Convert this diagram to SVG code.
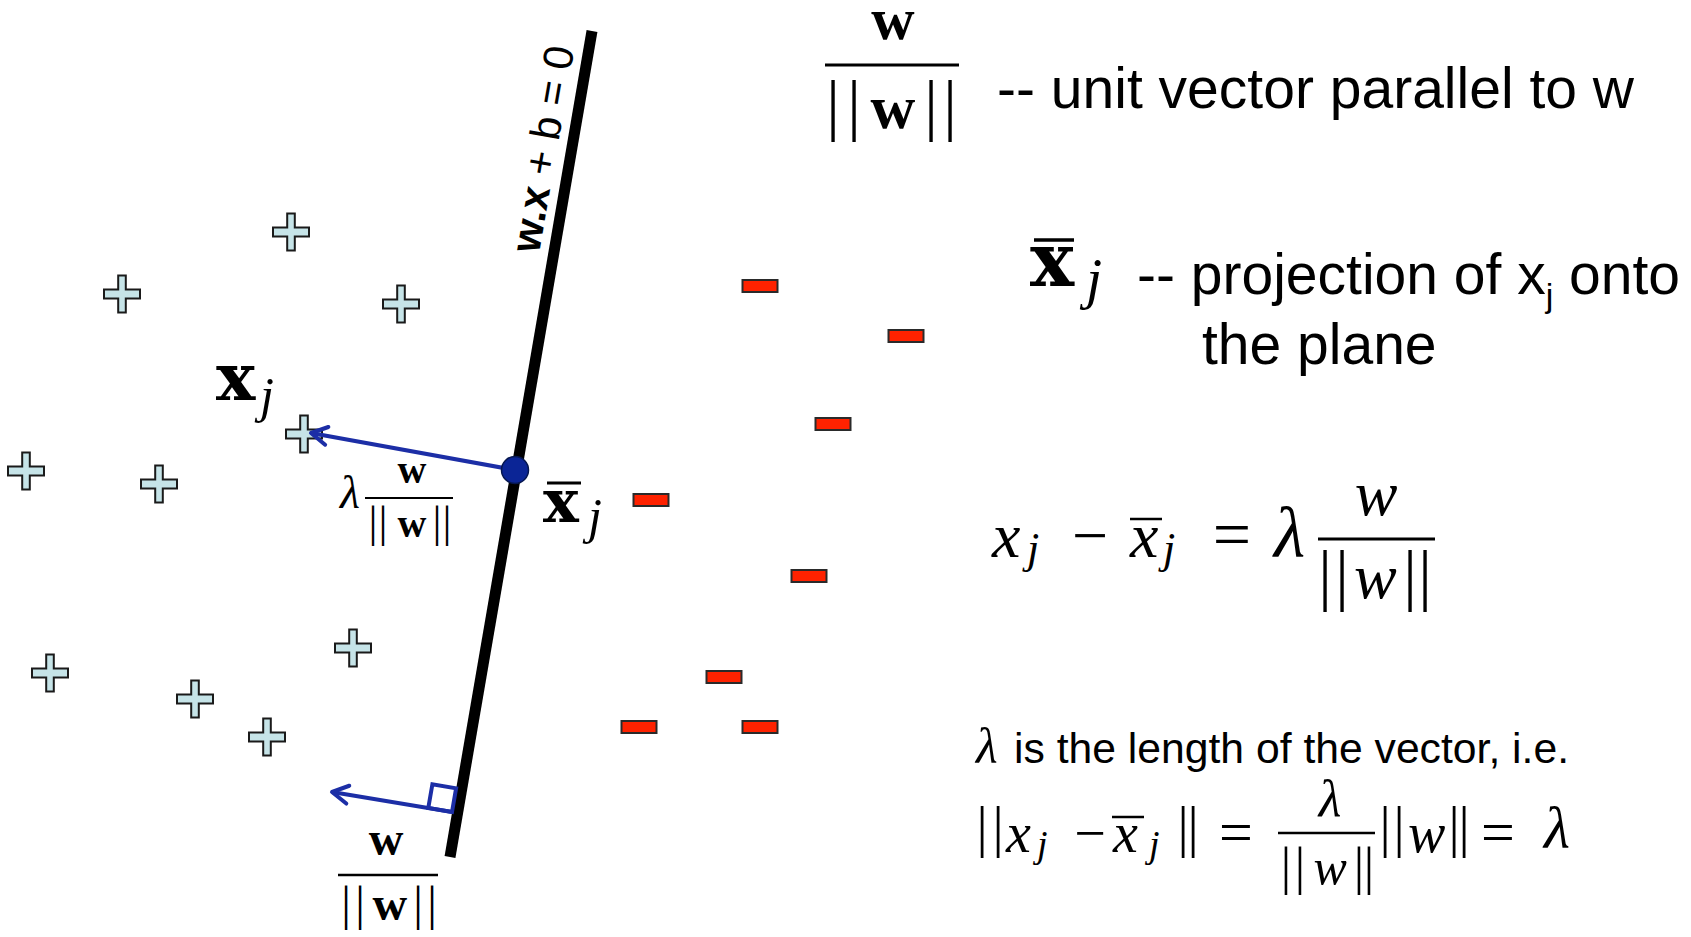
<svg xmlns="http://www.w3.org/2000/svg" width="1691" height="937" viewBox="0 0 1691 937">
<style>
.sans{font-family:"Liberation Sans",Arial,sans-serif;fill:#000}
.serif{font-family:"Liberation Serif","Times New Roman",serif;fill:#000}
.dj{font-family:"DejaVu Serif","Liberation Serif",serif;fill:#000}
.b{font-weight:bold}
.i{font-style:italic}
.plus{fill:#c6e4e8;stroke:#1a1a1a;stroke-width:2}
.neg{fill:#ff2200;stroke:#2a2a2a;stroke-width:2}
.vec{stroke:#1c2ea6;stroke-width:4;fill:none}
.bar{stroke:#000;fill:none}
</style>
<defs>
<path id="plusShape" class="plus" d="M-3.8,-18.5 H3.8 V-4.5 H18 V4.5 H3.8 V18.5 H-3.8 V4.5 H-18 V-4.5 H-3.8 Z"/>
<rect id="negShape" class="neg" x="-17.5" y="-6" width="35" height="12"/>
<marker id="chev" markerUnits="userSpaceOnUse" markerWidth="40" markerHeight="40" viewBox="-20 -20 40 40" refX="0" refY="0" orient="auto">
<path d="M-16,-9 L0,0 L-16,9" fill="none" stroke="#1c2ea6" stroke-width="4" stroke-linecap="round" stroke-linejoin="round"/>
</marker>
</defs>
<rect width="1691" height="937" fill="#fff"/>

<g id="hyperplane">
<line x1="592" y1="31" x2="450" y2="857" stroke="#000" stroke-width="11"/>
<text class="sans" font-size="42" transform="translate(539,254) rotate(-80.2)"><tspan class="b">w.x</tspan> + b = 0</text>
</g>

<g id="positives">
<g id="plus1"><use href="#plusShape" transform="translate(291,232)"/></g>
<g id="plus2"><use href="#plusShape" transform="translate(122,294)"/></g>
<g id="plus3"><use href="#plusShape" transform="translate(401,304)"/></g>
<g id="plus4"><use href="#plusShape" transform="translate(304,434)"/></g>
<g id="plus5"><use href="#plusShape" transform="translate(26,471)"/></g>
<g id="plus6"><use href="#plusShape" transform="translate(159,484)"/></g>
<g id="plus7"><use href="#plusShape" transform="translate(353,648)"/></g>
<g id="plus8"><use href="#plusShape" transform="translate(50,673)"/></g>
<g id="plus9"><use href="#plusShape" transform="translate(195,699)"/></g>
<g id="plus10"><use href="#plusShape" transform="translate(267,737)"/></g>
</g>

<g id="negatives">
<g id="neg1"><use href="#negShape" transform="translate(760,286)"/></g>
<g id="neg2"><use href="#negShape" transform="translate(906,336)"/></g>
<g id="neg3"><use href="#negShape" transform="translate(833,424)"/></g>
<g id="neg4"><use href="#negShape" transform="translate(651,500)"/></g>
<g id="neg5"><use href="#negShape" transform="translate(809,576)"/></g>
<g id="neg6"><use href="#negShape" transform="translate(724,677)"/></g>
<g id="neg7"><use href="#negShape" transform="translate(639,727)"/></g>
<g id="neg8"><use href="#negShape" transform="translate(760,727)"/></g>
</g>

<g id="connectors">
<line class="vec" x1="515" y1="470" x2="311" y2="433" marker-end="url(#chev)"/>
<line class="vec" x1="452" y1="812" x2="332" y2="792" marker-end="url(#chev)"/>
<polygon class="vec" stroke-width="3.5" points="452,812 456.1,788.3 432.4,784.2 428.3,807.9"/>
</g>

<g id="projection-point">
<circle cx="515" cy="470" r="13.5" fill="#0b2596" stroke="#06174f" stroke-width="1.5"/>
</g>

<g id="label-xj">
<text class="dj b" x="216" y="400" font-size="66">x</text>
<text class="serif i" x="260" y="412" font-size="50">j</text>
</g>

<g id="label-xbar-j">
<line class="bar" x1="547" y1="483" x2="581" y2="483" stroke-width="3"/>
<text class="dj b" x="543" y="522" font-size="60">x</text>
<text class="serif i" x="588" y="533" font-size="50">j</text>
</g>

<g id="label-lambda-w">
<text class="serif i" x="340" y="508" font-size="46">λ</text>
<text class="serif b" x="412" y="483" font-size="40" text-anchor="middle">w</text>
<line class="bar" x1="365" y1="498" x2="453" y2="498" stroke-width="2"/>
<text class="serif" y="537"><tspan font-size="45" x="368.5 378.5">||</tspan><tspan font-size="40" class="b" x="397.5">w</tspan><tspan font-size="45" x="432.5 442.5">||</tspan></text>
</g>

<g id="label-unit-w-bottom">
<text class="serif b" x="386" y="855" font-size="48" text-anchor="middle">w</text>
<line class="bar" x1="338" y1="875" x2="438" y2="875" stroke-width="2.5"/>
<text class="serif" y="920"><tspan font-size="48" x="341.2 355.2">||</tspan><tspan class="b" x="372.6" font-size="48">w</tspan><tspan font-size="48" x="413.2 427.2">||</tspan></text>
</g>

<g id="legend-unit-vector">
<text class="serif b" x="893" y="39" font-size="60" text-anchor="middle">w</text>
<line class="bar" x1="825" y1="65" x2="959" y2="65" stroke-width="3"/>
<text class="serif" y="128"><tspan font-size="68" x="826.2 847.2">||</tspan><tspan class="b" font-size="62" x="870.6">w</tspan><tspan font-size="68" x="924.2 943.2">||</tspan></text>
<text class="sans" x="997" y="108" font-size="57" textLength="637" lengthAdjust="spacingAndGlyphs">-- unit vector parallel to w</text>
</g>

<g id="legend-projection">
<line class="bar" x1="1034" y1="240" x2="1074" y2="240" stroke-width="3.5"/>
<text class="dj b" x="1030" y="286" font-size="74">x</text>
<text class="serif i" x="1086" y="298" font-size="58">j</text>
<text class="sans" x="1137" y="294" font-size="57">-- projection of x<tspan font-size="34" dy="13">j</tspan><tspan dy="-13"> onto</tspan></text>
<text class="sans" x="1202" y="364" font-size="57">the plane</text>
</g>

<g id="equation-1">
<text class="serif i" x="992" y="557" font-size="64">x</text>
<text class="serif i" x="1027" y="563" font-size="44">j</text>
<text class="serif" x="1090" y="557" font-size="64" text-anchor="middle">−</text>
<line class="bar" x1="1130" y1="519" x2="1162" y2="519" stroke-width="2.5"/>
<text class="serif i" x="1130" y="557" font-size="64">x</text>
<text class="serif i" x="1163" y="563" font-size="44">j</text>
<text class="serif" x="1232" y="557" font-size="68" text-anchor="middle">=</text>
<text class="serif i" x="1274" y="557" font-size="72">λ</text>
<text class="serif i" x="1376" y="515" font-size="64" text-anchor="middle">w</text>
<line class="bar" x1="1318" y1="539" x2="1435" y2="539" stroke-width="3"/>
<text class="serif" y="598"><tspan font-size="68" x="1318.2 1335.2">||</tspan><tspan class="i" font-size="64" x="1354">w</tspan><tspan font-size="68" x="1403.2 1418.2">||</tspan></text>
</g>

<g id="lambda-note">
<text class="serif i" x="976" y="763" font-size="50">λ</text>
<text class="sans" x="1014" y="763" font-size="42" textLength="555" lengthAdjust="spacingAndGlyphs">is the length of the vector, i.e.</text>
</g>

<g id="equation-2">
<text class="serif" y="846" font-size="56"><tspan x="976.4 992.4">||</tspan></text>
<text class="serif i" x="1006" y="852" font-size="56">x</text>
<text class="serif i" x="1037" y="857" font-size="38">j</text>
<text class="serif" x="1090" y="852" font-size="56" text-anchor="middle">−</text>
<line class="bar" x1="1112" y1="817" x2="1144" y2="817" stroke-width="2.5"/>
<text class="serif i" x="1113" y="852" font-size="56">x</text>
<text class="serif i" x="1149" y="857" font-size="38">j</text>
<text class="serif" y="846" font-size="56"><tspan x="1177.4 1187.4">||</tspan></text>
<text class="serif" x="1236" y="852" font-size="60" text-anchor="middle">=</text>
<text class="serif i" x="1330" y="816" font-size="52" text-anchor="middle">λ</text>
<line class="bar" x1="1278" y1="833" x2="1375" y2="833" stroke-width="2.5"/>
<text class="serif" y="884"><tspan font-size="52" x="1280.8 1294.8">||</tspan><tspan class="i" font-size="50" x="1313.5">w</tspan><tspan font-size="52" x="1353.8 1363.8">||</tspan></text>
<text class="serif" y="846"><tspan font-size="56" x="1379.4 1393.4">||</tspan><tspan class="i" font-size="56" x="1408" dy="6">w</tspan><tspan font-size="56" x="1448.4 1458.4" dy="-6">||</tspan></text>
<text class="serif" x="1498" y="852" font-size="60" text-anchor="middle">=</text>
<text class="serif i" x="1544" y="848" font-size="60">λ</text>
</g>
</svg>
